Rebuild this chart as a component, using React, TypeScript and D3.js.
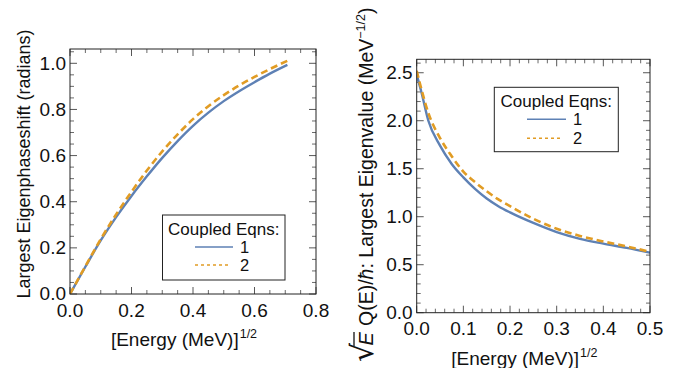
import React from 'react';
import * as d3 from 'd3';

// ---------- data ----------
const leftX = [0, 0.05, 0.1, 0.15, 0.2, 0.25, 0.3, 0.35, 0.4, 0.45, 0.5, 0.55, 0.6, 0.65, 0.707];
const leftBlue = [0, 0.118, 0.232, 0.333, 0.425, 0.51, 0.59, 0.663, 0.729, 0.786, 0.836, 0.879, 0.918, 0.955, 0.993];
const leftOrange = [0, 0.12, 0.238, 0.345, 0.443, 0.535, 0.618, 0.692, 0.758, 0.814, 0.862, 0.904, 0.941, 0.975, 1.011];

const rightX = [0, 0.01, 0.025, 0.05, 0.075, 0.1, 0.125, 0.15, 0.175, 0.2, 0.25, 0.3, 0.35, 0.4, 0.45, 0.5];
const rightBlue = [2.48, 2.3, 2.0, 1.74, 1.55, 1.41, 1.29, 1.19, 1.11, 1.045, 0.935, 0.84, 0.77, 0.72, 0.675, 0.625];
const rightOrange = [2.52, 2.33, 2.08, 1.82, 1.63, 1.47, 1.36, 1.265, 1.18, 1.11, 0.978, 0.875, 0.8, 0.742, 0.69, 0.635];

const leftXTicks = [0, 0.2, 0.4, 0.6, 0.8];
const leftYTicks = [0, 0.2, 0.4, 0.6, 0.8, 1.0];
const rightXTicks = [0, 0.1, 0.2, 0.3, 0.4, 0.5];
const rightYTicks = [0, 0.5, 1.0, 1.5, 2.0, 2.5];

const seriesNames = ['1', '2'];
const legendTitle = 'Coupled Eqns:';
const xLabelMain = '[Energy (MeV)]';
const xLabelSup = '1/2';
const leftYLabel = 'Largest Eigenphaseshift (radians)';

const BLUE = '#5E81B5';
const ORANGE = '#E19C24';
const FONT = '"Liberation Sans", Arial, Helvetica, sans-serif';
const TFS = 19;
const LFS = 19;

type PanelProps = {
  id: string;
  px0: number; px1: number; py0: number; py1: number;
  xDomain: [number, number]; yDomain: [number, number];
  xTicks: number[]; yTicks: number[];
  xMinor: number; yMinor: number;
  xs: number[]; blue: number[]; orange: number[];
  legend: { x0: number; y0: number; w: number; h: number; titleY: number; row1: number; row2: number; lx0: number; lx1: number; tx: number };
  xLabelY: number;
};

function Panel(p: PanelProps) {
  const x = d3.scaleLinear().domain(p.xDomain).range([p.px0, p.px1]);
  const y = d3.scaleLinear().domain(p.yDomain).range([p.py1, p.py0]);
  const line = d3.line<[number, number]>().x(d => x(d[0])).y(d => y(d[1])).curve(d3.curveMonotoneX);
  const bluePts = p.xs.map((v, i) => [v, p.blue[i]] as [number, number]);
  const orangePts = p.xs.map((v, i) => [v, p.orange[i]] as [number, number]);
  const fmt = d3.format('.1f');
  const xMinorTicks = d3.range(p.xDomain[0], p.xDomain[1] + 1e-9, p.xMinor);
  const yMinorTicks = d3.range(p.yDomain[0], p.yDomain[1] + 1e-9, p.yMinor);
  const isMajor = (v: number, arr: number[]) => arr.some(a => Math.abs(a - v) < 1e-6);
  const tc = '#444';
  const L = p.legend;
  return (
    <g>
      <defs>
        <clipPath id={`clip-${p.id}`}>
          <rect x={p.px0} y={p.py0} width={p.px1 - p.px0} height={p.py1 - p.py0} />
        </clipPath>
      </defs>
      {xMinorTicks.filter(v => !isMajor(v, p.xTicks)).map((v, i) => (
        <g key={`xm${i}`} stroke={tc} strokeWidth={0.8}>
          <line x1={x(v)} x2={x(v)} y1={p.py1} y2={p.py1 - 4} />
          <line x1={x(v)} x2={x(v)} y1={p.py0} y2={p.py0 + 4} />
        </g>
      ))}
      {yMinorTicks.filter(v => !isMajor(v, p.yTicks)).map((v, i) => (
        <g key={`ym${i}`} stroke={tc} strokeWidth={0.8}>
          <line x1={p.px0} x2={p.px0 + 4} y1={y(v)} y2={y(v)} />
          <line x1={p.px1} x2={p.px1 - 4} y1={y(v)} y2={y(v)} />
        </g>
      ))}
      {p.xTicks.map((v, i) => (
        <g key={`x${i}`}>
          <line x1={x(v)} x2={x(v)} y1={p.py1} y2={p.py1 - 7} stroke={tc} strokeWidth={0.9} />
          <line x1={x(v)} x2={x(v)} y1={p.py0} y2={p.py0 + 7} stroke={tc} strokeWidth={0.9} />
          <text x={x(v)} y={p.py1 + 22.5} textAnchor="middle" fontSize={TFS} fontFamily={FONT} fill="#111">{fmt(v)}</text>
        </g>
      ))}
      {p.yTicks.map((v, i) => (
        <g key={`y${i}`}>
          <line x1={p.px0} x2={p.px0 + 7} y1={y(v)} y2={y(v)} stroke={tc} strokeWidth={0.9} />
          <line x1={p.px1} x2={p.px1 - 7} y1={y(v)} y2={y(v)} stroke={tc} strokeWidth={0.9} />
          <text x={p.px0 - 4} y={y(v) + 6.3} textAnchor="end" fontSize={TFS} fontFamily={FONT} fill="#111">{fmt(v)}</text>
        </g>
      ))}
      <g clipPath={`url(#clip-${p.id})`}>
        <path d={line(bluePts) || ''} fill="none" stroke={BLUE} strokeWidth={2.4} strokeLinejoin="round" />
        <path d={line(orangePts) || ''} fill="none" stroke={ORANGE} strokeWidth={2.6} strokeDasharray="7,4" />
      </g>
      <rect x={p.px0} y={p.py0} width={p.px1 - p.px0} height={p.py1 - p.py0} fill="none" stroke="#222" strokeWidth={1} />
      <text x={(p.px0 + p.px1) / 2 - 9} y={p.xLabelY} textAnchor="middle" fontSize={LFS} fontFamily={FONT} fill="#111">
        {xLabelMain}
        <tspan fontSize={12.5} dx={1} dy={-8}>{xLabelSup}</tspan>
      </text>
      <rect x={L.x0} y={L.y0} width={L.w} height={L.h} fill="#fff" stroke="#222" strokeWidth={1} />
      <text x={L.x0 + L.w / 2} y={L.titleY} textAnchor="middle" fontSize={17} fontFamily={FONT} fill="#111">{legendTitle}</text>
      <line x1={L.lx0} x2={L.lx1} y1={L.row1} y2={L.row1} stroke={BLUE} strokeWidth={1.6} />
      <line x1={L.lx0} x2={L.lx1 - 3} y1={L.row2} y2={L.row2} stroke={ORANGE} strokeWidth={1.4} strokeDasharray="3,3" />
      <text x={L.tx} y={L.row1 + 6} fontSize={16.5} fontFamily={FONT} fill="#111">{seriesNames[0]}</text>
      <text x={L.tx} y={L.row2 + 6} fontSize={16.5} fontFamily={FONT} fill="#111">{seriesNames[1]}</text>
    </g>
  );
}

export default function App() {
  return (
    <div style={{ position: 'fixed', left: 0, top: 0 }}>
      <svg width={676} height={368} style={{ display: 'block', background: '#fff' }}>
        <Panel
          id="L"
          px0={70} px1={316} py0={49} py1={294}
          xDomain={[0, 0.8]} yDomain={[0, 1.062]}
          xTicks={leftXTicks} yTicks={leftYTicks}
          xMinor={0.05} yMinor={0.05}
          xs={leftX} blue={leftBlue} orange={leftOrange}
          legend={{ x0: 162.5, y0: 215, w: 122.5, h: 65, titleY: 235, row1: 247, row2: 265, lx0: 195, lx1: 233, tx: 240 }}
          xLabelY={346}
        />
        <Panel
          id="R"
          px0={416.7} px1={650} py0={59.3} py1={312.7}
          xDomain={[0, 0.5]} yDomain={[0, 2.64]}
          xTicks={rightXTicks} yTicks={rightYTicks}
          xMinor={0.02} yMinor={0.1}
          xs={rightX} blue={rightBlue} orange={rightOrange}
          legend={{ x0: 494.3, y0: 87.3, w: 124, h: 64.4, titleY: 106.5, row1: 119.3, row2: 138.3, lx0: 527, lx1: 566, tx: 573 }}
          xLabelY={364.5}
        />
        <text transform="translate(30,164) rotate(-90)" textAnchor="middle" fontSize={18} fontFamily={FONT} fill="#111">{leftYLabel}</text>
        <g transform="translate(373,362) rotate(-90)">
          <text x={0} y={0} fontSize={30} fontFamily='"DejaVu Sans", sans-serif' fill="#111">√</text>
          <text x={16.5} y={0} fontSize={20} fontStyle="italic" fontFamily={FONT} fill="#111">E</text>
          <line x1={16} x2={30} y1={-19} y2={-19} stroke="#111" strokeWidth={1.3} />
          <text x={36} y={0} fontSize={19.5} fontFamily={FONT} fill="#111">
            {'Q(E)/'}
            <tspan fontStyle="italic">ħ</tspan>
            {': Largest Eigenvalue (MeV'}
            <tspan fontSize={12.5} dy={-8}>−1/2</tspan>
            <tspan dy={8}>)</tspan>
          </text>
        </g>
      </svg>
    </div>
  );
}
